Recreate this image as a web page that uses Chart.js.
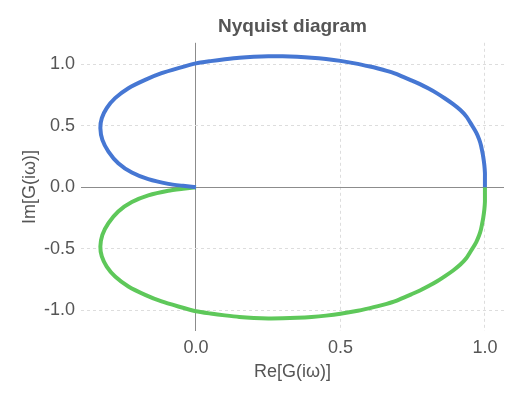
<!DOCTYPE html>
<html>
<head>
<meta charset="utf-8">
<script src="https://cdn.jsdelivr.net/npm/chart.js@4/dist/chart.umd.min.js"></script>
<style>
  html, body { margin: 0; padding: 0; background: #fff; }
  #wrap { width: 520px; height: 400px; }
</style>
</head>
<body>
<div id="wrap"><canvas id="nyquist"></canvas></div>
<script>
// Nyquist curve: positive frequencies (upper half)
const reUpper = [1.000, 1.000, 1.000, 0.998, 0.994, 0.990, 0.986, 0.980, 0.970, 0.954,
                 0.936, 0.915, 0.890, 0.862, 0.833, 0.805, 0.775, 0.745, 0.717, 0.690,
                 0.660, 0.630, 0.602, 0.550, 0.500, 0.450, 0.400, 0.350, 0.300, 0.250,
                 0.200, 0.150, 0.100, 0.050, 0.000, -0.061, -0.119, -0.176, -0.234, -0.280,
                 -0.309, -0.326, -0.331, -0.324, -0.303, -0.269, -0.222, -0.165, -0.096, -0.045,
                 0.000];
const imUpper = [0.000, 0.060, 0.117, 0.180, 0.250, 0.300, 0.345, 0.390, 0.445, 0.508,
                 0.575, 0.628, 0.676, 0.722, 0.766, 0.803, 0.839, 0.870, 0.898, 0.925,
                 0.947, 0.966, 0.982, 1.008, 1.028, 1.043, 1.054, 1.061, 1.065, 1.066,
                 1.062, 1.054, 1.041, 1.026, 1.008, 0.969, 0.928, 0.874, 0.806, 0.725,
                 0.644, 0.562, 0.481, 0.386, 0.291, 0.196, 0.120, 0.066, 0.028, 0.012,
                 0.000];

// negative frequencies (lower half, mirror image)
const reLower = [1.000, 1.000, 1.000, 0.998, 0.994, 0.990, 0.986, 0.980, 0.970, 0.954,
                 0.936, 0.915, 0.890, 0.862, 0.833, 0.805, 0.775, 0.745, 0.717, 0.690,
                 0.660, 0.630, 0.602, 0.550, 0.500, 0.450, 0.400, 0.350, 0.300, 0.250,
                 0.200, 0.150, 0.100, 0.050, 0.000, -0.061, -0.119, -0.176, -0.234, -0.280,
                 -0.309, -0.326, -0.331, -0.324, -0.303, -0.269, -0.222, -0.165, -0.096, -0.045,
                 0.000];
const imLower = [-0.000, -0.060, -0.117, -0.180, -0.250, -0.300, -0.345, -0.390, -0.445, -0.508,
                 -0.575, -0.628, -0.676, -0.722, -0.766, -0.803, -0.839, -0.870, -0.898, -0.925,
                 -0.947, -0.966, -0.982, -1.008, -1.028, -1.043, -1.054, -1.061, -1.065, -1.066,
                 -1.062, -1.054, -1.041, -1.026, -1.008, -0.969, -0.928, -0.874, -0.806, -0.725,
                 -0.644, -0.562, -0.481, -0.386, -0.291, -0.196, -0.120, -0.066, -0.028, -0.012,
                 -0.000];

// tick labels
const reTicks = [0, 0.5, 1.0];
const imTicks = [-1.0, -0.5, 0, 0.5, 1.0];

const FONT = "'Liberation Sans', Arial, Helvetica, sans-serif";
const TEXT = '#555555';

function toPoints(xs, ys) {
    return xs.map((x, i) => ({ x: x, y: ys[i] }));
}

// grid: solid darker line at zero, dashed light lines elsewhere
function gridColor(ctx) {
    return ctx.tick && ctx.tick.value === 0 ? '#8c8c8c' : '#dddddd';
}
function gridDash(ctx) {
    return ctx.tick && ctx.tick.value === 0 ? [] : [3, 3];
}

const config = {
    type: 'scatter',
    data: {
        datasets: [
            {
                label: 'ω > 0',
                data: toPoints(reUpper, imUpper),
                showLine: true,
                borderColor: '#4677d3',
                borderWidth: 4,
                pointRadius: 0,
                tension: 0.2,
                fill: false
            },
            {
                label: 'ω < 0',
                data: toPoints(reLower, imLower),
                showLine: true,
                borderColor: '#5ec85a',
                borderWidth: 4,
                pointRadius: 0,
                tension: 0.2,
                fill: false
            }
        ]
    },
    options: {
        responsive: true,
        maintainAspectRatio: false,
        animation: false,
        layout: { padding: { top: 0, right: 16, bottom: 0, left: 0 } },
        plugins: {
            legend: { display: false },
            tooltip: { enabled: false },
            title: {
                display: true,
                text: 'Nyquist diagram',
                fullSize: false,
                color: TEXT,
                font: { family: FONT, size: 19, weight: 'bold' },
                padding: { top: 15, bottom: 5 }
            }
        },
        scales: {
            x: {
                type: 'linear',
                min: -0.398,
                max: 1.066,
                afterBuildTicks: s => { s.ticks = reTicks.map(v => ({ value: v })); },
                afterFit: s => { s.height = 69; },
                grid: { color: gridColor, lineWidth: 1, drawTicks: false },
                border: { display: false, dash: gridDash },
                ticks: {
                    color: TEXT,
                    padding: 6,
                    font: { family: FONT, size: 18 },
                    callback: v => Number(v).toFixed(1)
                },
                title: {
                    display: true,
                    text: 'Re[G(iω)]',
                    color: TEXT,
                    font: { family: FONT, size: 18 },
                    padding: { top: 0, bottom: 17 }
                }
            },
            y: {
                type: 'linear',
                min: -1.168,
                max: 1.175,
                afterBuildTicks: s => { s.ticks = imTicks.map(v => ({ value: v })); },
                afterFit: s => { s.width = 81; },
                grid: { color: gridColor, lineWidth: 1, drawTicks: false },
                border: { display: false, dash: gridDash },
                ticks: {
                    color: TEXT,
                    padding: 6,
                    font: { family: FONT, size: 18 },
                    callback: v => Number(v).toFixed(1)
                },
                title: {
                    display: true,
                    text: 'Im[G(iω)]',
                    color: TEXT,
                    font: { family: FONT, size: 18 },
                    padding: { top: 19, bottom: 0 }
                }
            }
        }
    }
};

new Chart(document.getElementById('nyquist'), config);
</script>
</body>
</html>
